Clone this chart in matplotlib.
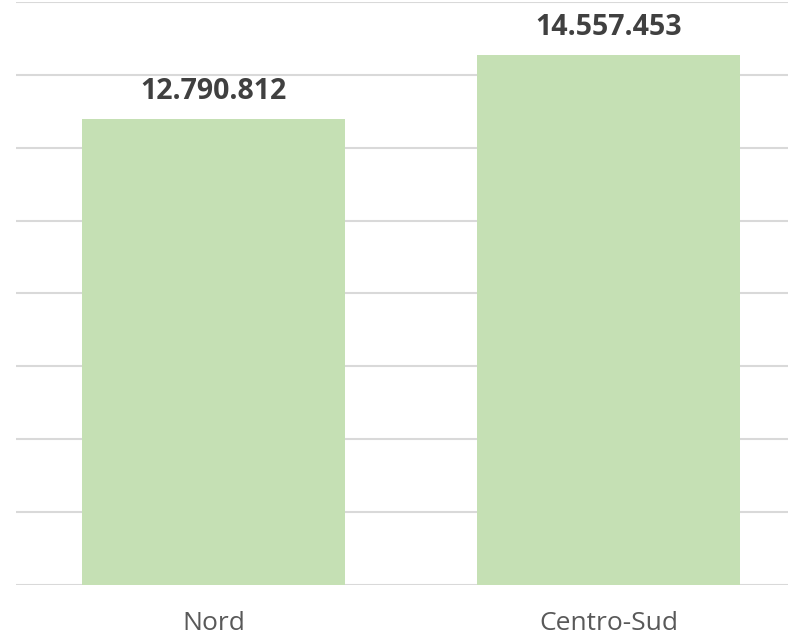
import matplotlib
matplotlib.use("Agg")
import matplotlib.pyplot as plt

categories = ["Nord", "Centro-Sud"]
values = [12790812, 14557453]
labels = ["12.790.812", "14.557.453"]

plt.rcParams['font.family'] = ['Open Sans', 'DejaVu Sans']

fig = plt.figure(figsize=(7.88, 6.38), dpi=100)
ax = fig.add_axes([16/788, 53/638, 790/788, 583/638])

x = range(len(categories))
ax.bar(x, values, width=0.666, color="#c5e0b4", zorder=2)
ax.set_xlim(-0.5, 1.5)
ax.set_ylim(0, 16000000)
ax.set_yticks(range(0, 16000001, 2000000))
ax.yaxis.grid(True, color="#d9d9d9", linewidth=1.5, zorder=0)
ax.set_yticklabels([])
ax.tick_params(axis='y', length=0)
ax.set_xticks(list(x))
ax.set_xticklabels(categories, fontsize=19, color="#595959")
ax.tick_params(axis='x', length=0, pad=19)
for s in ax.spines.values():
    s.set_visible(False)

for i, (v, lab) in enumerate(zip(values, labels)):
    ax.annotate(lab, (i, v), xytext=(0, 13), textcoords="offset pixels",
                ha="center", va="bottom", fontsize=20.5, fontweight="bold",
                color="#404040")

fig.savefig("out.png", dpi=100)
